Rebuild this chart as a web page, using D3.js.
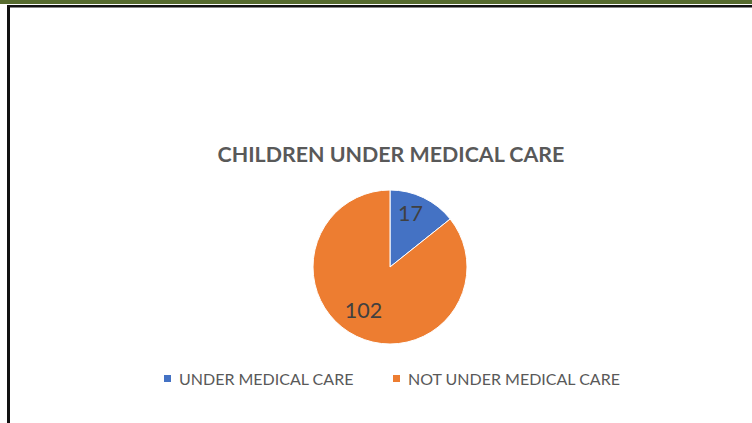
<!DOCTYPE html>
<html lang="en">
    <head>
        <meta charset="utf-8">
        <title>Children under medical care</title>
        <script src="https://d3js.org/d3.v7.min.js"></script>
        <style media="screen">
        body {
          margin: 0;
          background: #fff;
        }
        text {
          font-family: Lato, "Open Sans", sans-serif;
        }
        </style>
    </head>
    <body>
        <script type="text/javascript">
        'use strict'
        let categories = ["UNDER MEDICAL CARE", "NOT UNDER MEDICAL CARE"]
        let values = [17, 102]
        let colors = ["#4472C4", "#ED7D31"]

        let w = 752;
        let h = 423;
        let cx = 390, cy = 267, radius = 77

        let svg = d3.select("body")
          .append("svg")
          .attr("width", w)
          .attr("height", h)

        // page frame bits from the document around the chart
        svg.append("rect")
          .attr("x", 0).attr("y", 0)
          .attr("width", w).attr("height", 4)
          .attr("fill", "#566b2e")
        svg.append("rect")
          .attr("x", 7).attr("y", 5)
          .attr("width", w - 7).attr("height", 2.5)
          .attr("fill", "#111")
        svg.append("rect")
          .attr("x", 7).attr("y", 5)
          .attr("width", 3).attr("height", h - 5)
          .attr("fill", "#111")

        svg.append("text")
          .attr("x", cx + 1)
          .attr("y", 162)
          .attr("text-anchor", "middle")
          .attr("font-size", "21.4px")
          .attr("font-weight", "bold")
          .attr("fill", "#595959")
          .text("CHILDREN UNDER MEDICAL CARE")

        let pie = d3.pie().sort(null)
        let arc = d3.arc().innerRadius(0).outerRadius(radius)
        let labelArc = d3.arc().innerRadius(54).outerRadius(54)

        let g = svg.append("g")
          .attr("transform", "translate(" + cx + "," + cy + ")")

        g.selectAll("path")
          .data(pie(values))
          .enter()
          .append("path")
          .attr("d", arc)
          .attr("fill", (d, i) => colors[i])
          .attr("stroke", "#fff")
          .attr("stroke-width", 1)

        g.selectAll("text")
          .data(pie(values))
          .enter()
          .append("text")
          .attr("transform", (d) => {
            let c = labelArc.centroid(d)
            return "translate(" + (c[0] - 3) + "," + (c[1] - 5) + ")"
          })
          .attr("text-anchor", "middle")
          .attr("dy", "0.35em")
          .attr("font-size", "21.5px")
          .attr("fill", "#404040")
          .text((d) => d.data)

        let legendX = [164, 393]
        let legend = svg.selectAll(".legend")
          .data(categories)
          .enter()
          .append("g")
          .attr("class", "legend")
          .attr("transform", (d, i) => "translate(" + legendX[i] + ",375)")

        legend.append("rect")
          .attr("width", 7)
          .attr("height", 7)
          .attr("fill", (d, i) => colors[i])

        legend.append("text")
          .attr("x", 15)
          .attr("y", 10)
          .attr("font-size", "16px")
          .attr("fill", "#595959")
          .text((d) => d)

        </script>
    </body>
</html>
